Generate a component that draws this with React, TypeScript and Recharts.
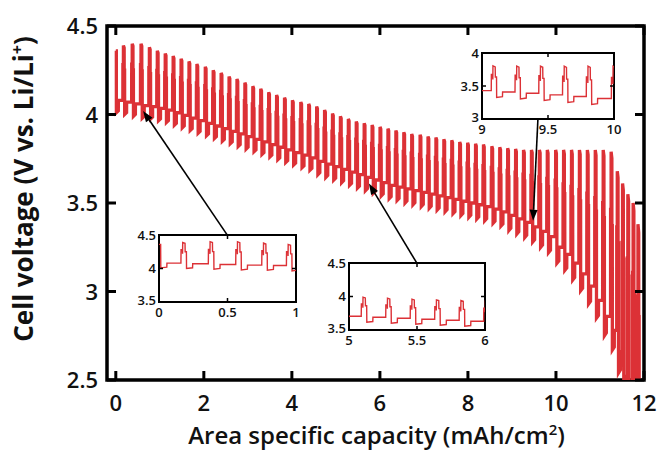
import React from "react";
import { LineChart, Line, XAxis, YAxis, ReferenceArea, ReferenceLine, Label } from "recharts";

// ---------------- data ----------------
// capacity (mAh/cm2) at which each current pulse starts
const pulseStart = [
  0.16, 0.36, 0.56, 0.75, 0.93,
  1.11, 1.29, 1.47, 1.65, 1.83,
  2.02, 2.2, 2.38, 2.56, 2.74,
  2.92, 3.1, 3.28, 3.46, 3.64,
  3.82, 4.0, 4.19, 4.37, 4.55,
  4.73, 4.91, 5.09, 5.27, 5.45,
  5.63, 5.81, 5.99, 6.17, 6.35,
  6.53, 6.71, 6.9, 7.08, 7.26,
  7.44, 7.62, 7.8, 7.98, 8.16,
  8.34, 8.53, 8.71, 8.89, 9.07,
  9.25, 9.43, 9.61, 9.79, 9.98,
  10.16, 10.34, 10.52, 10.7, 10.88,
  11.06, 11.24, 11.38, 11.5, 11.62,
  11.74, 11.85,
];
// peak voltage of each pulse (V)
const pulsePeak = [
  4.39, 4.4, 4.4, 4.38, 4.36,
  4.345, 4.33, 4.315, 4.3, 4.285,
  4.27, 4.25, 4.235, 4.215, 4.2,
  4.18, 4.16, 4.145, 4.125, 4.11,
  4.095, 4.08, 4.07, 4.06, 4.045,
  4.025, 4.005, 3.99, 3.975, 3.96,
  3.95, 3.94, 3.93, 3.92, 3.91,
  3.9, 3.89, 3.885, 3.875, 3.87,
  3.86, 3.855, 3.845, 3.84, 3.835,
  3.83, 3.82, 3.815, 3.81, 3.805,
  3.8, 3.8, 3.8, 3.8, 3.8,
  3.8, 3.8, 3.8, 3.8, 3.8,
  3.8, 3.79, 3.68, 3.61, 3.55,
  3.5, 3.38,
];
// rest (baseline) voltage just before each pulse (V)
const pulseBase = [
  4.08, 4.07, 4.06, 4.05, 4.045,
  4.035, 4.025, 4.01, 3.995, 3.98,
  3.965, 3.95, 3.935, 3.92, 3.905,
  3.89, 3.875, 3.86, 3.845, 3.83,
  3.815, 3.8, 3.785, 3.77, 3.755,
  3.735, 3.72, 3.705, 3.69, 3.675,
  3.66, 3.645, 3.63, 3.615, 3.6,
  3.59, 3.58, 3.57, 3.56, 3.55,
  3.54, 3.53, 3.52, 3.51, 3.5,
  3.49, 3.48, 3.465, 3.45, 3.43,
  3.41, 3.39, 3.365, 3.34, 3.31,
  3.25, 3.21, 3.16, 3.1, 3.03,
  2.95, 2.86, 2.78, 2.66, 2.52,
  2.38, 2.22,
];
// depth of the relaxation dip after each pulse (V)
const pulseDip = [
  0.07, 0.07, 0.07, 0.07, 0.07,
  0.07, 0.07, 0.07, 0.07, 0.07,
  0.07, 0.07, 0.07, 0.07, 0.07,
  0.07, 0.07, 0.07, 0.07, 0.07,
  0.07, 0.07, 0.07, 0.07, 0.075,
  0.075, 0.075, 0.075, 0.075, 0.075,
  0.075, 0.075, 0.075, 0.075, 0.075,
  0.08, 0.08, 0.08, 0.08, 0.08,
  0.08, 0.08, 0.08, 0.08, 0.08,
  0.08, 0.08, 0.08, 0.085, 0.085,
  0.085, 0.085, 0.09, 0.09, 0.09,
  0.09, 0.095, 0.095, 0.1, 0.1,
  0.11, 0.11, 0.12, 0.13, 0.14,
  0.15, 0.16,
];
const startVoltage = 4.36;
const endCapacity = 11.92;
const endVoltage = 2.0;

// shape of one pulse, as seen in the insets
const pulseRiseDx = [0, 0.001, 0.011, 0.012, 0.013, 0.03, 0.031, 0.04];
const pulseRiseLevel = [0, 0.65, 0.65, 0.45, 1, 0.96, 0.55, 0.55];
// relaxation after the pulse (fraction of the dip below the next baseline)
const relaxDx = [0.041, 0.085, 0.086];
const relaxFrac = [1, 0.85, 0];

const xTicksMain = [0, 2, 4, 6, 8, 10, 12];
const yTicksMain = [2.5, 3, 3.5, 4, 4.5];
const xDomainMain = [-0.2, 12];
const yDomainMain = [2.5, 4.5];

const insetXRange = [[0, 1], [5, 6], [9, 10]];
const insetYRange = [[3.5, 4.5], [3.5, 4.5], [3, 4]];
const insetXTicks = [[0, 0.5, 1], [5, 5.5, 6], [9, 9.5, 10]];
const insetYTicks = [[3.5, 4, 4.5], [3.5, 4, 4.5], [3, 3.5, 4]];

const arrowTail = [{ x: 2.53, v: 3.32 }, { x: 6.84, v: 3.16 }, { x: 9.59, v: 3.975 }];
const arrowHead = [{ x: 0.62, v: 4.02 }, { x: 5.75, v: 3.61 }, { x: 9.48, v: 3.4 }];

// ---------------- build the trace ----------------
type Pt = { x: number; v: number };
const trace: Pt[] = [];
trace.push({ x: 0, v: startVoltage });
trace.push({ x: 0.012, v: startVoltage });
relaxDx.forEach((dx, i) => trace.push({ x: dx - 0.028, v: pulseBase[0] - relaxFrac[i] * pulseDip[0] }));
pulseStart.forEach((x0, k) => {
  const b = pulseBase[k];
  const p = pulsePeak[k];
  const last = k === pulseStart.length - 1;
  const nb = last ? endVoltage : pulseBase[k + 1];
  pulseRiseDx.forEach((dx, i) => trace.push({ x: x0 + dx, v: b + pulseRiseLevel[i] * (p - b) }));
  relaxDx.forEach((dx, i) => trace.push({ x: x0 + dx, v: nb - relaxFrac[i] * pulseDip[k] }));
});
trace.push({ x: endCapacity, v: endVoltage });

// ---------------- layout & style ----------------
const FONT = "'Open Sans', 'DejaVu Sans', sans-serif";
const RED = "#dc3136";
const MAIN = { left: 107, top: 26, w: 537, h: 354 };
const MAIN_TICK = 9;
const INSETS = [
  { left: 159, top: 235, w: 137, h: 67 },
  { left: 349, top: 263, w: 136, h: 67 },
  { left: 482, top: 53, w: 132, h: 66 },
];

const MainXTick = (props: any) => {
  const { x, y, payload } = props;
  return (
    <g>
      <line x1={x} y1={y} x2={x} y2={y - MAIN_TICK} stroke="#000" strokeWidth={3} />
      <line x1={x} y1={y - MAIN.h} x2={x} y2={y - MAIN.h + MAIN_TICK} stroke="#000" strokeWidth={3} />
      <text x={x} y={y + 31} textAnchor="middle" fontFamily={FONT} fontWeight={600} fontSize={22} fill="#111">
        {String(payload.value)}
      </text>
    </g>
  );
};

const MainYTick = (props: any) => {
  const { x, y, payload } = props;
  return (
    <g>
      <line x1={x} y1={y} x2={x + MAIN_TICK} y2={y} stroke="#000" strokeWidth={3} />
      <line x1={x + MAIN.w} y1={y} x2={x + MAIN.w - MAIN_TICK} y2={y} stroke="#000" strokeWidth={3} />
      <text x={x - 9} y={y + 8} textAnchor="end" fontFamily={FONT} fontWeight={600} fontSize={22} fill="#111">
        {String(payload.value)}
      </text>
    </g>
  );
};

const XTitle = () => (
  <text x={MAIN.left + MAIN.w / 2 + 1} y={444} textAnchor="middle" fontFamily={FONT} fontWeight={600} fontSize={24} fill="#111">
    Area specific capacity (mAh/cm<tspan dy={-9} fontSize={15}>2</tspan><tspan dy={9}>)</tspan>
  </text>
);

const YTitle = () => (
  <text
    x={0}
    y={0}
    transform={`translate(33, 189) rotate(-90)`}
    textAnchor="middle"
    fontFamily={FONT}
    fontWeight={700}
    fontSize={26}
    fill="#111"
  >
    Cell voltage (V vs. Li/Li<tspan dy={-10} fontSize={16}>+</tspan><tspan dy={10}>)</tspan>
  </text>
);

const ArrowShape = (props: any) => {
  const { x1, y1, x2, y2 } = props;
  const ang = Math.atan2(y2 - y1, x2 - x1);
  const len = 11;
  const hw = 4;
  const bx = x2 - len * Math.cos(ang);
  const by = y2 - len * Math.sin(ang);
  const px = -Math.sin(ang) * hw;
  const py = Math.cos(ang) * hw;
  return (
    <g>
      <line x1={x1} y1={y1} x2={bx} y2={by} stroke="#000" strokeWidth={1.6} />
      <polygon points={`${x2},${y2} ${bx + px},${by + py} ${bx - px},${by - py}`} fill="#000" />
    </g>
  );
};

function Inset({ idx }: { idx: number }) {
  const L = INSETS[idx];
  const padL = 40, padT = 10, padR = 10, padB = 26;
  const [xlo, xhi] = insetXRange[idx];
  const [ylo, yhi] = insetYRange[idx];
  const XT = (props: any) => {
    const { x, y, payload } = props;
    const inner = payload.value > xlo && payload.value < xhi;
    return (
      <g>
        {inner && <line x1={x} y1={y} x2={x} y2={y - 4} stroke="#000" strokeWidth={1.5} />}
        {inner && <line x1={x} y1={y - L.h} x2={x} y2={y - L.h + 4} stroke="#000" strokeWidth={1.5} />}
        <text x={x} y={y + 15} textAnchor="middle" fontFamily={FONT} fontWeight={600} fontSize={13} fill="#111">
          {String(payload.value)}
        </text>
      </g>
    );
  };
  const YT = (props: any) => {
    const { x, y, payload } = props;
    const inner = payload.value > ylo && payload.value < yhi;
    const atBottom = payload.value === ylo;
    return (
      <g>
        {inner && <line x1={x} y1={y} x2={x + 4} y2={y} stroke="#000" strokeWidth={1.5} />}
        {inner && <line x1={x + L.w} y1={y} x2={x + L.w - 4} y2={y} stroke="#000" strokeWidth={1.5} />}
        <text x={x - 3} y={y + (atBottom ? 3 : 4.5)} textAnchor="end" fontFamily={FONT} fontWeight={600} fontSize={13} fill="#111">
          {String(payload.value)}
        </text>
      </g>
    );
  };
  return (
    <div style={{ position: "absolute", left: L.left - padL, top: L.top - padT }}>
      <LineChart width={padL + L.w + padR} height={padT + L.h + padB} data={trace} margin={{ top: padT, right: padR, left: 0, bottom: 0 }}>
        <XAxis
          dataKey="x"
          type="number"
          domain={insetXRange[idx]}
          allowDataOverflow
          ticks={insetXTicks[idx]}
          interval={0}
          tickSize={0}
          tickMargin={0}
          tickLine={false}
          axisLine={false}
          height={padB}
          tick={(p: any) => <XT {...p} />}
        />
        <YAxis
          type="number"
          domain={insetYRange[idx]}
          allowDataOverflow
          ticks={insetYTicks[idx]}
          interval={0}
          tickSize={0}
          tickMargin={0}
          tickLine={false}
          axisLine={false}
          width={padL}
          tick={(p: any) => <YT {...p} />}
        />
        <Line dataKey="v" type="linear" stroke={RED} strokeWidth={1.4} dot={false} isAnimationActive={false} />
        <ReferenceArea x1={xlo} x2={xhi} y1={ylo} y2={yhi} fill="none" fillOpacity={0} stroke="#000" strokeWidth={2} ifOverflow="visible" />
      </LineChart>
    </div>
  );
}

export default function App() {
  return (
    <div style={{ position: "absolute", left: 0, top: 0, width: 657, height: 452, background: "#fff" }}>
      <LineChart
        width={657}
        height={452}
        data={trace}
        margin={{ top: MAIN.top, right: 657 - MAIN.left - MAIN.w, left: 0, bottom: 0 }}
      >
        <XAxis
          dataKey="x"
          type="number"
          domain={xDomainMain}
          allowDataOverflow
          ticks={xTicksMain}
          interval={0}
          tickSize={0}
          tickMargin={0}
          tickLine={false}
          axisLine={false}
          height={452 - MAIN.top - MAIN.h}
          tick={(p: any) => <MainXTick {...p} />}
        >
          <Label content={XTitle} />
        </XAxis>
        <YAxis
          type="number"
          domain={yDomainMain}
          allowDataOverflow
          ticks={yTicksMain}
          interval={0}
          tickSize={0}
          tickMargin={0}
          tickLine={false}
          axisLine={false}
          width={MAIN.left}
          tick={(p: any) => <MainYTick {...p} />}
        >
          <Label content={YTitle} />
        </YAxis>
        <Line dataKey="v" type="linear" stroke={RED} strokeWidth={3.3} dot={false} isAnimationActive={false} />
        {arrowTail.map((t, i) => (
          <ReferenceLine
            key={i}
            segment={[{ x: t.x, y: t.v }, { x: arrowHead[i].x, y: arrowHead[i].v }]}
            shape={ArrowShape}
            ifOverflow="visible"
          />
        ))}
        <ReferenceArea
          x1={xDomainMain[0]}
          x2={xDomainMain[1]}
          y1={yDomainMain[0]}
          y2={yDomainMain[1]}
          fill="none"
          fillOpacity={0}
          stroke="#000"
          strokeWidth={3.5}
          ifOverflow="visible"
        />
      </LineChart>
      {INSETS.map((_, i) => (
        <Inset key={i} idx={i} />
      ))}
    </div>
  );
}
